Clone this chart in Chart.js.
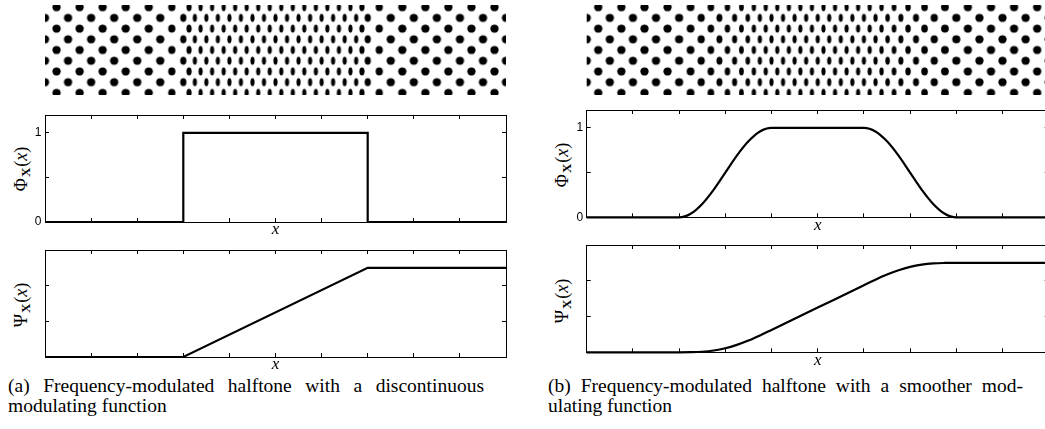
<!DOCTYPE html>
<html><head><meta charset="utf-8">
<script src="https://cdn.jsdelivr.net/npm/chart.js@4.4.1/dist/chart.umd.min.js"></script>
<style>
html,body{margin:0;padding:0;background:#fff;}
body{width:1045px;height:429px;overflow:hidden;position:relative;}
canvas{position:absolute;}
.ylab{position:absolute;font-family:"Liberation Serif","DejaVu Serif",serif;font-size:18px;color:#000;white-space:nowrap;transform:translate(-50%,-50%) rotate(-90deg);line-height:1;}
.ylab b{font-weight:bold;font-size:13px;position:relative;top:3px;margin-left:1px;margin-right:1px;}
.cap{position:absolute;font-family:"Liberation Serif","Times New Roman",serif;font-size:19.5px;line-height:20px;color:#000;white-space:nowrap;}
.cap .j{text-align:justify;text-align-last:justify;white-space:normal;}
</style></head>
<body>
<div class="ylab" style="left:21px;top:169px">Φ<b>X</b>(<i>x</i>)</div>
<div class="ylab" style="left:21px;top:305px">Ψ<b>X</b>(<i>x</i>)</div>
<div class="ylab" style="left:562px;top:165px">Φ<b>X</b>(<i>x</i>)</div>
<div class="ylab" style="left:562px;top:301px">Ψ<b>X</b>(<i>x</i>)</div>
<div class="cap" style="left:8px;top:376px;width:476px"><div class="j">(a) Frequency-modulated halftone with a discontinuous</div><div>modulating function</div></div>
<div class="cap" style="left:548px;top:376px;width:475px"><div class="j">(b) Frequency-modulated halftone with a smoother mod-</div><div>ulating function</div></div>
<script>
// ---------------- data ----------------
const xTicks = [0,1,2,3,4,5,6,7,8,9,10];
const phiTicks = [0,0.5,1];
const phiTickLabels = ['0','','1'];
const psiTicks = [0.4,0.8];
const psiTickLabels = ['',''];

// (a) discontinuous modulating function
const aPhiX = [0,3,3,7,7,10];
const aPhiY = [0,0,1,1,0,0];
const aPsiX = [0,3,7,10];
const aPsiY = [0,0,1,1];

// (b) smoother modulating function
const bPhiX = [0,2,2.25,2.5,2.75,3,3.25,3.5,3.75,4,6,6.25,6.5,6.75,7,7.25,7.5,7.75,8,10];
const bPhiY = [0,0,0.04,0.15,0.31,0.5,0.69,0.85,0.96,1,1,0.96,0.85,0.69,0.5,0.31,0.15,0.04,0,0];
const bPsiX = [0,2,2.25,2.5,2.75,3,3.25,3.5,3.75,4,5,6,6.25,6.5,6.75,7,7.25,7.5,7.75,8,10];
const bPsiY = [0,0,0.001,0.006,0.02,0.045,0.083,0.131,0.188,0.25,0.5,0.75,0.812,0.869,0.917,0.955,0.98,0.994,0.999,1,1];

// halftone dot column positions (x units), rows of type A and type B
const aDotsA = [0,0.5,1,1.5,2,2.5,3,3.25,3.5,3.75,4,4.25,4.5,4.75,5,5.25,5.5,5.75,6,6.25,6.5,6.75,7,7.5,8,8.5,9,9.5,10];
const aDotsB = [0.25,0.75,1.25,1.75,2.25,2.75,3.125,3.375,3.625,3.875,4.125,4.375,4.625,4.875,5.125,5.375,5.625,5.875,6.125,6.375,6.625,6.875,7.25,7.75,8.25,8.75,9.25,9.75];
const bDotsA = [0,0.5,1,1.5,2,2.478,2.873,3.201,3.487,3.748,4,4.25,4.5,4.75,5,5.25,5.5,5.75,6,6.252,6.513,6.799,7.127,7.522,8,8.5,9,9.5,10];
const bDotsB = [0.25,0.75,1.25,1.75,2.247,2.687,3.045,3.348,3.618,3.875,4.125,4.375,4.625,4.875,5.125,5.375,5.625,5.875,6.125,6.382,6.652,6.955,7.313,7.753,8.25,8.75,9.25,9.75];
const rowsA = [1,3,5,7];
const rowsB = [0,2,4,6,8];

// ---------------- layout ----------------
const TITLE_PX = 17;
const DOT_H = 8.2;
const DOT_RATIO = 0.36;

function makeCanvas(left, top, w, h) {
  const c = document.createElement('canvas');
  c.width = w; c.height = h;
  c.style.left = left + 'px'; c.style.top = top + 'px';
  c.style.width = w + 'px'; c.style.height = h + 'px';
  document.body.appendChild(c);
  return c;
}

function plotChart(g, xs, ys, yTicks, yLabels, smooth) {
  const c = makeCanvas(g.cl, g.ct, g.cw, g.ch);
  const wl = g.L - g.cl, wr = g.cl + g.cw - g.R, ht = g.T - g.ct, hb = g.ct + g.ch - g.B;
  const padB = (g.ct + g.ch) - g.ty - TITLE_PX * 1.2 / 2;
  const grid = {display:true, drawOnChartArea:false, drawTicks:true, tickLength:-4, color:'#000', lineWidth:1};
  const border = {display:true, color:'#000', width:1};
  const setX = s => { s.ticks = xTicks.map(v => ({value:v})); };
  const setY = s => { s.ticks = yTicks.map(v => ({value:v})); };
  new Chart(c, {
    type:'line',
    data:{datasets:[{
      data: xs.map((x,i) => ({x:x, y:ys[i]})),
      borderColor:'#000', borderWidth:2.2, pointRadius:0, fill:false,
      tension:0, cubicInterpolationMode: smooth ? 'monotone' : 'default',
      clip:4, borderJoinStyle:'miter'
    }]},
    options:{
      responsive:false, animation:false, events:[],
      layout:{padding:0},
      plugins:{legend:{display:false}, tooltip:{enabled:false}},
      scales:{
        x:{type:'linear', position:'bottom', min:0, max:10, afterBuildTicks:setX,
           ticks:{display:false}, grid:grid, border:border,
           title:{display:true, text:'x', color:'#000',
                  font:{family:'Liberation Serif', style:'italic', size:TITLE_PX, lineHeight:1.2},
                  padding:{top:0, bottom:padB}},
           afterFit: s => { s.height = hb; }},
        x2:{type:'linear', position:'top', min:0, max:10, afterBuildTicks:setX,
            ticks:{display:false}, grid:grid, border:border,
            afterFit: s => { s.height = ht; }},
        y:{type:'linear', position:'left', min:0, max:1.2, afterBuildTicks:setY,
           ticks:{callback:(v,i) => yLabels[i], color:'#000',
                  font:{family:'Liberation Sans', size:12}, padding:7.5},
           grid:grid, border:border,
           afterFit: s => { s.width = wl; }},
        y2:{type:'linear', position:'right', min:0, max:1.2, afterBuildTicks:setY,
            ticks:{display:false}, grid:grid, border:border,
            afterFit: s => { s.width = wr; }}
      }
    }
  });
}

const ellCache = {};
function ellipse(w, h) {
  const key = w.toFixed(2);
  if (ellCache[key]) return ellCache[key];
  const W = Math.ceil(w) + 4, H = Math.ceil(h) + 4;
  const c = document.createElement('canvas');
  c.width = W; c.height = H;
  const x = c.getContext('2d');
  x.fillStyle = '#000';
  x.beginPath();
  x.ellipse(W / 2, H / 2, w / 2, h / 2, 0, 0, Math.PI * 2);
  x.fill();
  ellCache[key] = c;
  return c;
}

function halftoneChart(g, colsA, colsB) {
  const c = makeCanvas(g.cl, 0, g.cw, 100);
  const unitPx = (g.R - g.L) / 10;
  function period(cols, i) {
    if (i === 0) return cols[1] - cols[0];
    if (i === cols.length - 1) return cols[i] - cols[i - 1];
    return (cols[i + 1] - cols[i - 1]) / 2;
  }
  function ds(cols, rows) {
    const data = [], styles = [];
    rows.forEach(r => cols.forEach((x, i) => {
      data.push({x:x, y:r});
      styles.push(ellipse(period(cols, i) * unitPx * DOT_RATIO, DOT_H));
    }));
    return {data:data, pointStyle:styles, pointRadius:4, showLine:false, clip:0};
  }
  new Chart(c, {
    type:'scatter',
    data:{datasets:[ds(colsA, rowsA), ds(colsB, rowsB)]},
    options:{
      responsive:false, animation:false, events:[],
      layout:{padding:{left:g.L - g.cl, right:g.cl + g.cw - g.R, top:3.4, bottom:3.4}},
      plugins:{legend:{display:false}, tooltip:{enabled:false}},
      scales:{
        x:{type:'linear', min:0, max:10, display:false},
        y:{type:'linear', min:-0.2, max:8.2, reverse:true, display:false}
      }
    }
  });
}

const gA = {L:45, R:506};
const gB = {L:586.7, R:1048.7};
halftoneChart({cl:0, cw:520, L:gA.L, R:gA.R}, aDotsA, aDotsB);
halftoneChart({cl:540, cw:520, L:gB.L, R:gB.R}, bDotsA, bDotsB);

plotChart({cl:0, ct:100, cw:520, ch:145, L:gA.L, R:gA.R, T:115, B:222, ty:230}, aPhiX, aPhiY, phiTicks, phiTickLabels, false);
plotChart({cl:0, ct:235, cw:520, ch:145, L:gA.L, R:gA.R, T:250, B:357, ty:365}, aPsiX, aPsiY, psiTicks, psiTickLabels, false);
plotChart({cl:540, ct:95, cw:520, ch:145, L:gB.L, R:gB.R, T:110, B:217.3, ty:226}, bPhiX, bPhiY, phiTicks, phiTickLabels, true);
plotChart({cl:540, ct:230, cw:520, ch:145, L:gB.L, R:gB.R, T:245, B:352.3, ty:361}, bPsiX, bPsiY, psiTicks, psiTickLabels, true);
</script>
</body></html>
